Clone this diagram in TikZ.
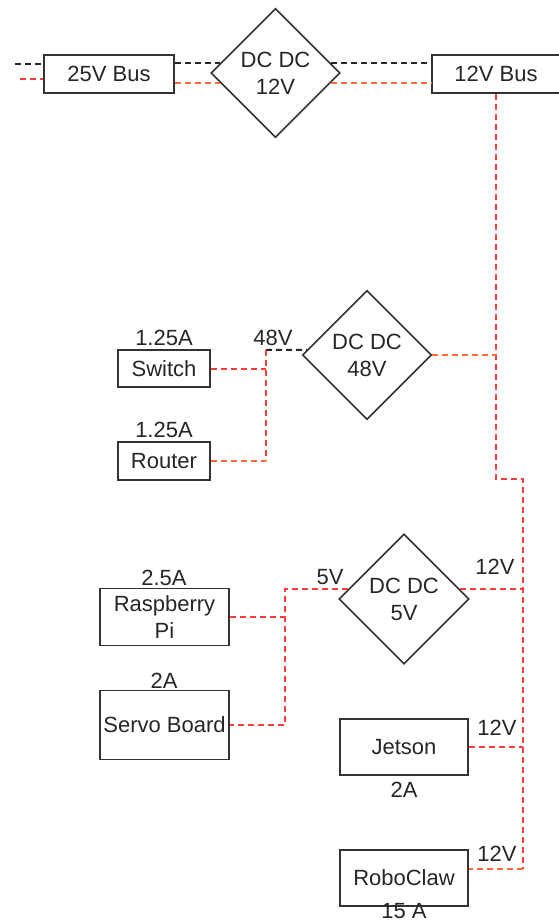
\documentclass[tikz,border=0pt]{standalone}
\usepackage{fontspec}
\setmainfont{Liberation Sans}
\usetikzlibrary{shapes.geometric,calc}

\definecolor{wirered}{RGB}{255,60,60}
\definecolor{wireorange}{RGB}{255,105,55}
\definecolor{edgegray}{RGB}{50,50,50}

\begin{document}
\begin{tikzpicture}[x=1pt,y=-1pt,
  font=\fontsize{22}{27}\selectfont,text=black!85,
  box/.style={draw=edgegray,line width=1.6pt,rectangle,inner sep=0pt,align=center},
  conv/.style={draw=edgegray,line width=1.6pt,diamond,minimum width=129pt,minimum height=129pt,inner sep=0pt,align=center},
  sig/.style={line width=2pt,dash pattern=on 6pt off 4pt,black!85},
  pwr/.style={line width=2pt,dash pattern=on 6pt off 4pt,wirered},
  pwro/.style={pwr,wireorange}]
  \useasboundingbox (0,0) rectangle (558,922);

  \node[box,minimum width=130pt,minimum height=38pt] (bus25) at (109,74) {25V Bus};
  \node[conv] (dc12) at (275.5,73) {DC DC\\12V};
  \node[box,minimum width=128pt,minimum height=38pt] (bus12) at (496,74) {12V Bus};
  \node[conv] (dc48) at (367,355) {DC DC\\48V};
  \node[box,minimum width=92pt,minimum height=37pt] (sw) at (164,368.5) {Switch};
  \node[box,minimum width=92pt,minimum height=38pt] (rt) at (164,461) {Router};
  \node[conv,minimum width=130pt,minimum height=130pt] (dc5) at (404,599) {DC DC\\5V};
  \node[box,minimum width=129pt,minimum height=57pt] (rpi) at (164.5,617) {Raspberry\\Pi};
  \node[box,minimum width=129pt,minimum height=69pt] (servo) at (164.5,725) {Servo Board};
  \node[box,minimum width=128pt,minimum height=56pt] (jet) at (404,747) {Jetson};
  \node[box,minimum width=128pt,minimum height=56pt] (rc) at (404,878) {RoboClaw};

  \node (iSw) at (164,338) {1.25A};
  \node (iRt) at (164,430) {1.25A};
  \node (v48) at (273,338) {48V};
  \node (iRpi) at (164,578) {2.5A};
  \node (iServo) at (164,681) {2A};
  \node (v5) at (330,577) {5V};
  \node (v12a) at (495,567) {12V};
  \node (v12b) at (497,728) {12V};
  \node (iJet) at (404,790) {2A};
  \node (v12c) at (497,854) {12V};
  \node (iRc) at (404,911) {15 A};

  \coordinate (inBlk) at (15,64);
  \coordinate (inRed) at (20,79);
  \coordinate (j48) at (266,350);
  \coordinate (j5) at (285,589);
  \coordinate (bend) at (523,479);
  \coordinate (tRC) at (523,869);

  \draw[sig] (inBlk) -- (inBlk -| bus25.west);
  \draw[pwr] (inRed) -- (inRed -| bus25.west);
  \draw[sig] (bus25.east |- dc12.170) -- (dc12.170);
  \draw[pwro] (bus25.east |- dc12.190) -- (dc12.190);
  \draw[sig] (dc12.10) -- (dc12.10 -| bus12.west);
  \draw[pwro] (dc12.350) -- (dc12.350 -| bus12.west);

  \draw[pwr] (bus12.south) -- (bus12.south |- bend) -- (bend) -- (tRC);
  \draw[pwro] (tRC) -- (tRC -| rc.east);
  \draw[pwro] (dc48.east) -- (dc48.east -| bus12.south);
  \draw[sig] (j48) -- (dc48.175);
  \draw[pwr] (sw.east) -- (sw.east -| j48);
  \draw[pwr] (j48) -- (j48 |- rt.east);
  \draw[pwro] (rt.east) -- (rt.east -| j48);
  \draw[pwr] (dc5.10) -- (dc5.10 -| bend);
  \draw[pwr] (dc5.170) -- (dc5.170 -| j5) -- (j5 |- servo.east) -- (servo.east);
  \draw[pwr] (rpi.east) -- (rpi.east -| j5);
  \draw[pwr] (jet.east) -- (jet.east -| bend);
\end{tikzpicture}
\end{document}
